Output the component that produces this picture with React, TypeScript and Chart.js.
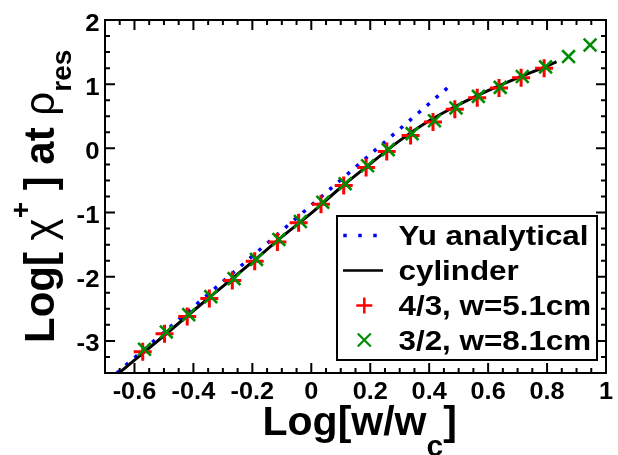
import React, { useEffect, useRef } from "react";
import { Chart, registerables } from "chart.js";

Chart.register(...registerables);

// ---- data ----
const yuX = [-0.66, 0.474];
const yuY = [-3.5, 0.99];

const cylX = [-0.65, -0.5, -0.4, -0.3, -0.2, -0.1, 0, 0.1, 0.2, 0.3, 0.4, 0.5, 0.6, 0.7, 0.8, 0.832];
const cylY = [-3.49, -2.92, -2.53, -2.15, -1.77, -1.38, -1.01, -0.61, -0.24, 0.12, 0.43, 0.68, 0.9, 1.1, 1.28, 1.35];

const redX = [-0.572, -0.498, -0.421, -0.346, -0.268, -0.192, -0.115, -0.043, 0.033, 0.11, 0.186, 0.256, 0.337, 0.413, 0.487, 0.563, 0.637, 0.712, 0.79];
const redY = [-3.17, -2.89, -2.62, -2.34, -2.06, -1.76, -1.46, -1.16, -0.87, -0.58, -0.3, -0.05, 0.2, 0.41, 0.61, 0.79, 0.94, 1.1, 1.25];

const greenX = [-0.566, -0.492, -0.416, -0.341, -0.262, -0.186, -0.11, -0.037, 0.039, 0.115, 0.191, 0.261, 0.342, 0.418, 0.491, 0.567, 0.641, 0.716, 0.795, 0.873, 0.946];
const greenY = [-3.13, -2.86, -2.59, -2.31, -2.03, -1.73, -1.42, -1.14, -0.84, -0.55, -0.27, -0.02, 0.23, 0.43, 0.63, 0.81, 0.95, 1.12, 1.27, 1.43, 1.61];

const xTickValues = [-0.6, -0.4, -0.2, 0, 0.2, 0.4, 0.6, 0.8, 1];
const xTickLabels = ["-0.6", "-0.4", "-0.2", "0", "0.2", "0.4", "0.6", "0.8", "1"];
const yTickValues = [-3, -2, -1, 0, 1, 2];
const yTickLabels = ["-3", "-2", "-1", "0", "1", "2"];

const legendLabels = ["Yu analytical", "cylinder", "4/3, w=5.1cm", "3/2, w=8.1cm"];

const X_MIN = -0.7;
const X_MAX = 1;
const Y_MIN = -3.5;
const Y_MAX = 2;

const BLUE = "#0000ff";
const RED = "#ff0000";
const GREEN = "#008c00";
const FONT = '"Liberation Sans", Arial, Helvetica, sans-serif';

const pts = (xs: number[], ys: number[]) => xs.map((x, i) => ({ x, y: ys[i] }));

function stretchText(ctx: CanvasRenderingContext2D, text: string, x: number, y: number, font: string, sx: number, align: CanvasTextAlign) {
  ctx.save();
  ctx.font = font;
  ctx.textBaseline = "alphabetic";
  const w = ctx.measureText(text).width * sx;
  let left = x;
  if (align === "center") left = x - w / 2;
  else if (align === "right") left = x - w;
  ctx.translate(left, y);
  ctx.scale(sx, 1);
  ctx.textAlign = "left";
  ctx.fillText(text, 0, 0);
  ctx.restore();
}

type Piece = { text: string; font: string; dy: number };
function drawRich(ctx: CanvasRenderingContext2D, pieces: Piece[]) {
  let pos = 0;
  ctx.textAlign = "left";
  ctx.textBaseline = "alphabetic";
  for (const p of pieces) {
    ctx.font = p.font;
    ctx.fillText(p.text, pos, p.dy);
    pos += ctx.measureText(p.text).width;
  }
}

const decorPlugin = {
  id: "decor",
  afterDraw(chart: any) {
    const ctx: CanvasRenderingContext2D = chart.ctx;
    const { left, right, top, bottom } = chart.chartArea;
    const xs = chart.scales.x;
    const ys = chart.scales.y;
    ctx.save();
    ctx.strokeStyle = "#000";
    ctx.fillStyle = "#000";
    ctx.lineWidth = 2;
    ctx.lineCap = "butt";

    // ticks (inside, all four sides)
    ctx.beginPath();
    for (let i = -14; i <= 20; i++) {
      const v = i * 0.05;
      const px = xs.getPixelForValue(v);
      const len = i % 4 === 0 ? 10 : 5;
      ctx.moveTo(px, bottom);
      ctx.lineTo(px, bottom - len);
      ctx.moveTo(px, top);
      ctx.lineTo(px, top + len);
    }
    for (let i = -14; i <= 8; i++) {
      const v = i * 0.25;
      const py = ys.getPixelForValue(v);
      const len = i % 4 === 0 ? 10 : 5;
      ctx.moveTo(left, py);
      ctx.lineTo(left + len, py);
      ctx.moveTo(right, py);
      ctx.lineTo(right - len, py);
    }
    ctx.stroke();
    ctx.strokeRect(left, top, right - left, bottom - top);

    // tick labels
    const tickFont = `bold 23px ${FONT}`;
    xTickValues.forEach((v, i) => {
      stretchText(ctx, xTickLabels[i], xs.getPixelForValue(v), 399, tickFont, 1.1, "center");
    });
    yTickValues.forEach((v, i) => {
      stretchText(ctx, yTickLabels[i], 99.5, ys.getPixelForValue(v) + 10.5, tickFont, 1.12, "right");
    });

    // x title
    ctx.save();
    ctx.translate(262.5, 435);
    drawRich(ctx, [
      { text: "Log[w/w", font: `bold 41px ${FONT}`, dy: 0 },
      { text: "c", font: `bold 30px ${FONT}`, dy: 21 },
      { text: "]", font: `bold 41px ${FONT}`, dy: 0 },
    ]);
    ctx.restore();

    // y title
    ctx.save();
    ctx.translate(53.5, 343);
    ctx.rotate(-Math.PI / 2);
    drawRich(ctx, [
      { text: "Log[ ", font: `bold 42px ${FONT}`, dy: 0 },
      { text: "\u03c7", font: `42px ${FONT}`, dy: 0 },
      { text: "+", font: `bold 28px ${FONT}`, dy: -24 },
      { text: " ] at ", font: `bold 42px ${FONT}`, dy: 0 },
      { text: "\u03c1", font: `42px ${FONT}`, dy: 0 },
      { text: "res", font: `bold 28px ${FONT}`, dy: 17 },
    ]);
    ctx.restore();

    // legend
    const lx0 = 337, ly0 = 216, lx1 = 597, ly1 = 360;
    ctx.fillStyle = "#fff";
    ctx.fillRect(lx0, ly0, lx1 - lx0, ly1 - ly0);
    ctx.strokeStyle = "#000";
    ctx.lineWidth = 2;
    ctx.strokeRect(lx0, ly0, lx1 - lx0, ly1 - ly0);
    const baselines = [245, 280, 315, 349.5];
    const legFont = `bold 28px ${FONT}`;
    ctx.fillStyle = "#000";
    legendLabels.forEach((t, i) => {
      stretchText(ctx, t, 398.5, baselines[i], legFont, 1.12, "left");
    });
    // symbols
    const cy = baselines.map((b) => b - 9.5);
    ctx.fillStyle = BLUE;
    [345, 360, 375].forEach((dx) => ctx.fillRect(dx - 1.75, cy[0] - 1.75, 3.5, 3.5));
    ctx.strokeStyle = "#000";
    ctx.lineWidth = 2.5;
    ctx.beginPath();
    ctx.moveTo(343, cy[1]);
    ctx.lineTo(383, cy[1]);
    ctx.stroke();
    ctx.strokeStyle = RED;
    ctx.lineWidth = 2.5;
    ctx.beginPath();
    ctx.moveTo(364.3 - 8, cy[2]);
    ctx.lineTo(364.3 + 8, cy[2]);
    ctx.moveTo(364.3, cy[2] - 8);
    ctx.lineTo(364.3, cy[2] + 8);
    ctx.stroke();
    ctx.strokeStyle = GREEN;
    ctx.lineWidth = 2.2;
    ctx.beginPath();
    ctx.moveTo(364.3 - 6.5, cy[3] - 6.5);
    ctx.lineTo(364.3 + 6.5, cy[3] + 6.5);
    ctx.moveTo(364.3 + 6.5, cy[3] - 6.5);
    ctx.lineTo(364.3 - 6.5, cy[3] + 6.5);
    ctx.stroke();

    ctx.restore();
  },
};

export default function App() {
  const ref = useRef<HTMLCanvasElement | null>(null);
  useEffect(() => {
    if (!ref.current) return;
    const chart = new Chart(ref.current, {
      type: "scatter",
      data: {
        datasets: [
          {
            label: legendLabels[3],
            data: pts(greenX, greenY),
            pointStyle: "crossRot",
            pointRadius: 9,
            pointBorderWidth: 2.6,
            borderColor: GREEN,
            backgroundColor: GREEN,
            showLine: false,
          },
          {
            label: legendLabels[2],
            data: pts(redX, redY),
            pointStyle: "cross",
            pointRadius: 9,
            pointBorderWidth: 3,
            borderColor: RED,
            backgroundColor: RED,
            showLine: false,
          },
          {
            label: legendLabels[1],
            data: pts(cylX, cylY),
            showLine: true,
            borderColor: "#000",
            borderWidth: 3,
            pointRadius: 0,
            cubicInterpolationMode: "monotone",
          },
          {
            label: legendLabels[0],
            data: pts(yuX, yuY),
            showLine: true,
            borderColor: BLUE,
            borderWidth: 3.5,
            borderDash: [3.5, 8.2],
            borderCapStyle: "butt",
            pointRadius: 0,
          },
        ],
      } as any,
      options: {
        animation: false,
        responsive: false,
        maintainAspectRatio: false,
        layout: { padding: { left: 105, right: 9, top: 20, bottom: 82 } },
        scales: {
          x: { type: "linear", min: X_MIN, max: X_MAX, display: false },
          y: { type: "linear", min: Y_MIN, max: Y_MAX, display: false },
        },
        plugins: {
          legend: { display: false },
          tooltip: { enabled: false },
        },
      } as any,
      plugins: [decorPlugin],
    });
    return () => chart.destroy();
  }, []);
  return (
    <div style={{ position: "absolute", left: 0, top: 0, width: 618, height: 455, background: "#fff" }}>
      <canvas ref={ref} width={618} height={455} style={{ display: "block" }} />
    </div>
  );
}
